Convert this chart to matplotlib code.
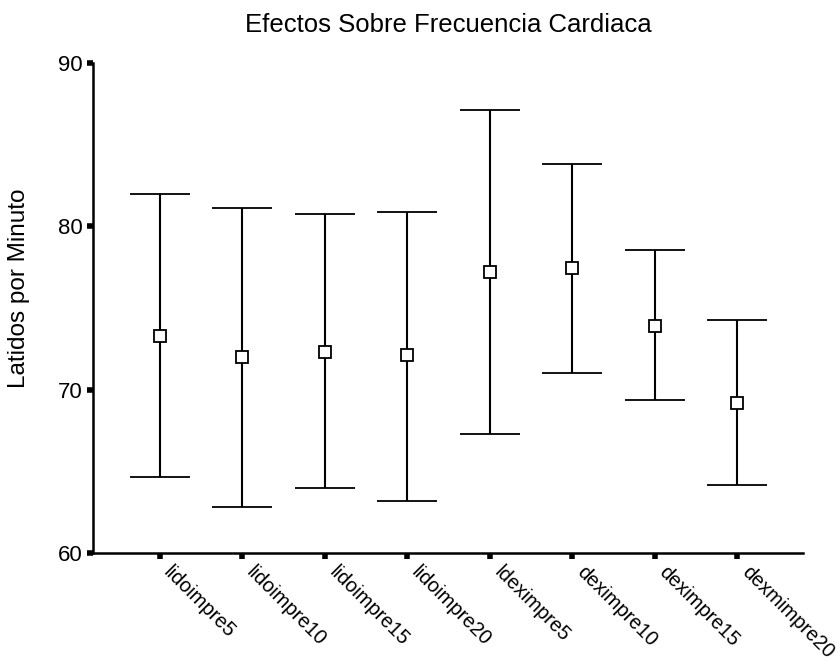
import matplotlib
matplotlib.use('Agg')
import matplotlib.pyplot as plt
import matplotlib.transforms as mtransforms
import numpy as np

plt.rcParams['font.family'] = ['Liberation Sans', 'DejaVu Sans']

# Data
groups = ['lidoimpre5', 'lidoimpre10', 'lidoimpre15', 'lidoimpre20',
          'ldeximpre5', 'deximpre10', 'deximpre15', 'dexmimpre20']
means = [73.3, 72.0, 72.3, 72.1, 77.2, 77.45, 73.9, 69.2]
upper = [82.0, 81.1, 80.75, 80.85, 87.1, 83.8, 78.55, 74.25]
lower = [64.65, 62.8, 64.0, 63.2, 67.3, 71.0, 69.4, 64.15]

x = np.arange(len(groups))
means = np.array(means)
err = [means - np.array(lower), np.array(upper) - means]

fig = plt.figure(figsize=(8.36, 6.61), dpi=100)
ax = fig.add_axes([0.111, 0.163, 0.85, 0.742])

ax.errorbar(x, means, yerr=err, fmt='s', color='black', ecolor='black',
            mfc='white', mec='black', ms=9, mew=1.3, elinewidth=1.5,
            capsize=21.5, capthick=1.5)

ax.set_xlim(-0.81, 7.8)
ax.set_ylim(60, 90)
ax.set_yticks([60, 70, 80, 90])
ax.set_xticks(x)
ax.tick_params(axis='both', direction='out', length=4, width=4)
ax.tick_params(axis='y', labelsize=16)
ax.tick_params(axis='x', pad=3)
ax.set_xticklabels(groups, rotation=-45, ha='left', va='top',
                   rotation_mode='anchor', fontsize=14.4)

# nudge the slanted labels a little to the right, like the original
shift = mtransforms.ScaledTranslation(10 / 72, 0, fig.dpi_scale_trans)
for lab in ax.get_xticklabels():
    lab.set_transform(lab.get_transform() + shift)

for s in ['top', 'right']:
    ax.spines[s].set_visible(False)
for s in ['left', 'bottom']:
    ax.spines[s].set_linewidth(1.8)

ax.set_ylabel('Latidos por Minuto', fontsize=17.5)
ax.yaxis.set_label_coords(-0.088, 0.54)
ax.set_title('Efectos Sobre Frecuencia Cardiaca', fontsize=18.5, pad=22)

plt.savefig('out.png', dpi=100)
